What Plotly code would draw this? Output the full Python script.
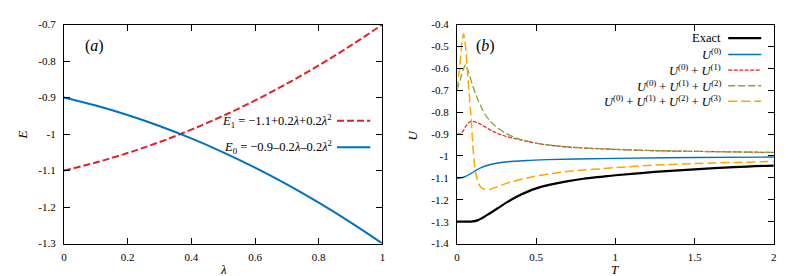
import plotly.graph_objects as go

# ---------------- data ----------------
# panel (a)
lam = [0.0, 0.1, 0.2, 0.3, 0.4, 0.5, 0.6, 0.7, 0.8, 0.9, 1.0]
E0 = [-0.9, -0.922, -0.948, -0.978, -1.012, -1.05, -1.092, -1.138, -1.188, -1.242, -1.3]
E1 = [-1.1, -1.078, -1.052, -1.022, -0.988, -0.95, -0.908, -0.862, -0.812, -0.758, -0.7]

# panel (b)
T_exact = [0, 0.067, 0.1, 0.13, 0.16, 0.192, 0.255, 0.317, 0.38, 0.443, 0.505, 0.589, 0.693, 0.798, 0.923, 1.0,
           1.25, 1.5, 1.75, 2.0]
U_exact = [-1.3, -1.3, -1.299, -1.294, -1.283, -1.269, -1.24, -1.211, -1.185, -1.164, -1.147, -1.131, -1.116,
           -1.104, -1.094, -1.088, -1.073, -1.061, -1.051, -1.044]

T_u0 = [0, 0.02, 0.05, 0.09, 0.12, 0.15, 0.213, 0.28, 0.36, 0.46, 0.568, 0.75, 1.0, 1.5, 2.0]
U_u0 = [-1.102, -1.101, -1.095, -1.08, -1.066, -1.054, -1.039, -1.03, -1.024, -1.02, -1.017, -1.014, -1.011,
        -1.007, -1.005]

T_u1 = [0, 0.02, 0.04, 0.06, 0.08, 0.094, 0.12, 0.14, 0.18, 0.224, 0.26, 0.307, 0.39, 0.5, 0.63, 0.8, 1.0,
        1.25, 1.5, 2.0]
U_u1 = [-0.9, -0.899, -0.885, -0.86, -0.845, -0.842, -0.846, -0.852, -0.868, -0.886, -0.898, -0.91, -0.925,
        -0.942, -0.955, -0.964, -0.970, -0.976, -0.979, -0.984]

T_u2 = [0, 0.02, 0.04, 0.056, 0.075, 0.098, 0.12, 0.14, 0.18, 0.21, 0.244, 0.307, 0.39, 0.5, 0.63, 0.8, 1.0,
        1.25, 1.5, 2.0]
U_u2 = [-0.7, -0.655, -0.605, -0.583, -0.62, -0.675, -0.72, -0.755, -0.813, -0.84, -0.864, -0.896, -0.922,
        -0.941, -0.954, -0.963, -0.970, -0.976, -0.979, -0.984]

T_u3 = [0, 0.02, 0.032, 0.042, 0.05, 0.058, 0.067, 0.078, 0.088, 0.102, 0.115, 0.13, 0.15, 0.175, 0.203,
        0.25, 0.317, 0.4, 0.485, 0.58, 0.693, 0.8, 0.923, 1.0, 1.25, 1.5, 2.0]
U_u3 = [-0.7, -0.58, -0.48, -0.442, -0.47, -0.53, -0.616, -0.72, -0.806, -0.966, -1.06, -1.115, -1.142,
        -1.152, -1.153, -1.142, -1.124, -1.108, -1.094, -1.082, -1.071, -1.064, -1.058, -1.053, -1.042,
        -1.035, -1.025]

xa_ticks = [0, 0.2, 0.4, 0.6, 0.8, 1]
xa_labels = ["0", "0.2", "0.4", "0.6", "0.8", "1"]
ya_ticks = [-1.3, -1.2, -1.1, -1.0, -0.9, -0.8, -0.7]
ya_labels = ["-1.3", "-1.2", "-1.1", "-1", "-0.9", "-0.8", "-0.7"]
xb_ticks = [0, 0.5, 1, 1.5, 2]
xb_labels = ["0", "0.5", "1", "1.5", "2"]
yb_ticks = [-1.4, -1.3, -1.2, -1.1, -1.0, -0.9, -0.8, -0.7, -0.6, -0.5, -0.4]
yb_labels = ["-1.4", "-1.3", "-1.2", "-1.1", "-1", "-0.9", "-0.8", "-0.7", "-0.6", "-0.5", "-0.4"]

legend_a = ["<i>E</i><sub>1</sub> = \u22121.1+0.2<i>\u03bb</i>+0.2<i>\u03bb</i><sup>2</sup>",
            "<i>E</i><sub>0</sub> = \u22120.9\u20130.2<i>\u03bb</i>\u20130.2<i>\u03bb</i><sup>2</sup>"]
legend_b = ["Exact",
            "<i>U</i><sup>(0)</sup>",
            "<i>U</i><sup>(0)</sup> + <i>U</i><sup>(1)</sup>",
            "<i>U</i><sup>(0)</sup> + <i>U</i><sup>(1)</sup> + <i>U</i><sup>(2)</sup>",
            "<i>U</i><sup>(0)</sup> + <i>U</i><sup>(1)</sup> + <i>U</i><sup>(2)</sup> + <i>U</i><sup>(3)</sup>"]

# ---------------- styling ----------------
W, H = 789, 276
FONT = "Liberation Serif"
BLUE = "#0072bd"
RED = "#e0202a"
GREEN = "#77ac30"
ORANGE = "#ffa500"
BLACK = "#000000"


def px(x):
    return x / W


def py(y):
    return 1 - y / H


fig = go.Figure()

# panel (a)
fig.add_trace(go.Scatter(x=lam, y=E1, mode="lines", line=dict(color=RED, width=2, dash="7px,3px", shape="spline"),
                         xaxis="x", yaxis="y", showlegend=False))
fig.add_trace(go.Scatter(x=lam, y=E0, mode="lines", line=dict(color=BLUE, width=2, shape="spline"),
                         xaxis="x", yaxis="y", showlegend=False))

# panel (b)
styles_b = [
    (T_exact, U_exact, BLACK, 2.2, "solid", 1.0),
    (T_u0, U_u0, BLUE, 1.4, "solid", 1.0),
    (T_u1, U_u1, RED, 1.2, "4px,1.5px", 1.0),
    (T_u2, U_u2, GREEN, 1.3, "7px,3px", 0.8),
    (T_u3, U_u3, ORANGE, 1.5, "9px,4px", 0.7),
]
for tx, uy, col, wd, ds, sm in styles_b:
    fig.add_trace(go.Scatter(x=tx, y=uy, mode="lines",
                             line=dict(color=col, width=wd, dash=ds, shape="spline", smoothing=sm),
                             xaxis="x2", yaxis="y2", showlegend=False))

axis_common = dict(showline=True, linecolor="black", linewidth=1, mirror="allticks", ticks="inside",
                   ticklen=6, tickcolor="black", tickwidth=1, showgrid=False, zeroline=False,
                   tickfont=dict(family=FONT, size=11, color="black"))

y_dom = [py(240), py(11)]
fig.update_layout(
    width=W, height=H, margin=dict(l=0, r=0, t=0, b=0),
    paper_bgcolor="white", plot_bgcolor="white",
    xaxis=dict(domain=[px(53.3), px(374.3)], range=[0, 1], tickvals=xa_ticks, ticktext=xa_labels,
               anchor="y", ticklabelstandoff=3, **axis_common),
    yaxis=dict(domain=y_dom, range=[-1.3, -0.7], tickvals=ya_ticks, ticktext=ya_labels,
               anchor="x", ticklabelstandoff=5, **axis_common),
    xaxis2=dict(domain=[px(449.3), px(768.7)], range=[0, 2], tickvals=xb_ticks, ticktext=xb_labels,
                anchor="y2", ticklabelstandoff=3, **axis_common),
    yaxis2=dict(domain=y_dom, range=[-1.4, -0.4], tickvals=yb_ticks, ticktext=yb_labels,
                anchor="x2", ticklabelstandoff=5, **axis_common),
)

annotations = []
shapes = []


def text(x, y, s, size=11, xanchor="center", angle=0):
    annotations.append(dict(x=px(x), y=py(y), xref="paper", yref="paper", text=s, showarrow=False,
                            xanchor=xanchor, yanchor="middle", textangle=angle,
                            font=dict(family=FONT, size=size, color="black")))


# axis titles
text(12, 126, "<i>E</i>", size=13, angle=-90)
text(214, 267, "<i>\u03bb</i>", size=13)
text(405, 126, "<i>U</i>", size=13, angle=-90)
text(609, 267, "<i>T</i>", size=13)

# panel labels
text(84, 33, "(<i>a</i>)", size=16)
text(478, 33, "(<i>b</i>)", size=16)

# legend (a)
leg_a_rows = [111.5, 139.3]
leg_a_styles = [(RED, 2, "7px,3px"), (BLUE, 2, "solid")]
for s, yrow, (col, wd, ds) in zip(legend_a, leg_a_rows, leg_a_styles):
    text(325.5, yrow, s, size=12.5, xanchor="right")
    shapes.append(dict(type="line", xref="paper", yref="paper", x0=px(328.5), x1=px(362), y0=py(yrow),
                       y1=py(yrow), line=dict(color=col, width=wd, dash=ds)))

# legend (b)
leg_b_rows = [25.3, 42.3, 58.7, 75.0, 91.3]
for s, yrow, (_, _, col, wd, ds, _) in zip(legend_b, leg_b_rows, styles_b):
    text(717, yrow, s, size=12.5, xanchor="right")
    shapes.append(dict(type="line", xref="paper", yref="paper", x0=px(722.7), x1=px(756), y0=py(yrow),
                       y1=py(yrow), line=dict(color=col, width=wd, dash=ds)))

fig.update_layout(annotations=annotations, shapes=shapes)
fig.write_html("out.html")
